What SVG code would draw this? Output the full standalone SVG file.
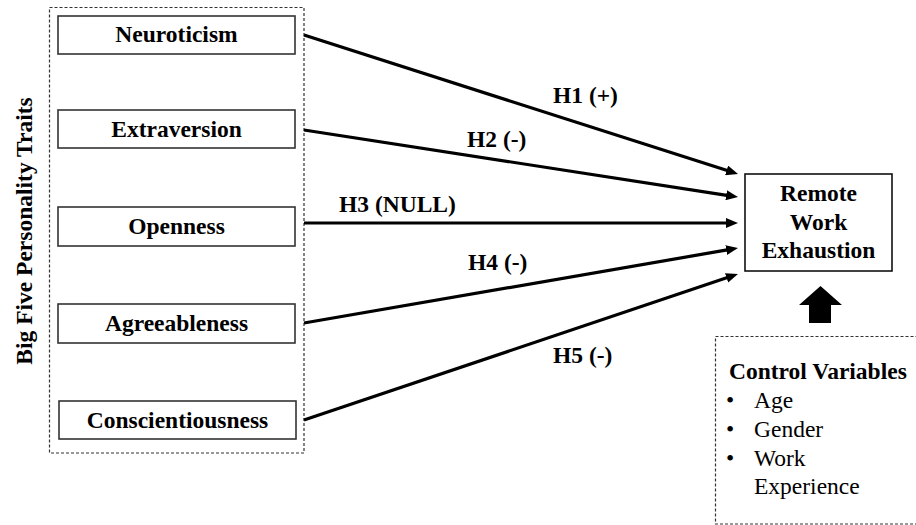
<svg xmlns="http://www.w3.org/2000/svg" width="916" height="525" viewBox="0 0 916 525">
<style>
.bg{fill:#fff}
.dash{fill:none;stroke:#333;stroke-width:1.2;stroke-dasharray:3,2}
.box{fill:#fff;stroke:#333;stroke-width:1.6}
.lbl{font-family:"Liberation Serif","Times New Roman",serif;font-weight:bold;font-size:23.5px;fill:#000;text-anchor:middle}
.hl{font-family:"Liberation Serif","Times New Roman",serif;font-weight:bold;font-size:23.5px;fill:#000}
.reg{font-family:"Liberation Serif","Times New Roman",serif;font-size:23.5px;fill:#000}
.arr{stroke:#000;stroke-width:3.2;fill:none;marker-end:url(#ah)}
</style>
<defs>
<marker id="ah" viewBox="0 0 12 10" refX="4" refY="5" markerWidth="12" markerHeight="10" markerUnits="userSpaceOnUse" orient="auto">
<path d="M0,0 L12,5 L0,10 z" fill="#000"/>
</marker>
</defs>
<rect class="bg" x="0" y="0" width="916" height="525"/>
<g id="group-traits">
<rect class="dash" x="49.5" y="7.5" width="254.5" height="445.5"/>
<text class="lbl" transform="translate(32,231) rotate(-90)" x="0" y="0">Big Five Personality Traits</text>
</g>
<g id="neuroticism">
<rect class="box" x="58" y="16" width="237" height="38"/>
<text class="lbl" x="176.5" y="42">Neuroticism</text>
</g>
<g id="extraversion">
<rect class="box" x="58" y="110" width="237" height="38"/>
<text class="lbl" x="176.5" y="137">Extraversion</text>
</g>
<g id="openness">
<rect class="box" x="58" y="207" width="237" height="39"/>
<text class="lbl" x="176.5" y="234">Openness</text>
</g>
<g id="agreeableness">
<rect class="box" x="58" y="304" width="237" height="39"/>
<text class="lbl" x="176.5" y="331">Agreeableness</text>
</g>
<g id="conscientiousness">
<rect class="box" x="59" y="401" width="237" height="38"/>
<text class="lbl" x="177.5" y="428">Conscientiousness</text>
</g>
<g id="exhaustion">
<rect class="box" x="745" y="174" width="147" height="97" style="stroke:#111"/>
<text class="lbl" x="818.5" y="201">Remote</text>
<text class="lbl" x="818.5" y="230">Work</text>
<text class="lbl" x="818.5" y="258">Exhaustion</text>
</g>
<g id="controls">
<rect class="dash" x="715.5" y="336.5" width="210" height="187.5"/>
<text class="hl" x="729" y="379">Control Variables</text>
<text class="reg" x="726" y="408">•</text>
<text class="reg" x="754" y="408">Age</text>
<text class="reg" x="726" y="437">•</text>
<text class="reg" x="754" y="437">Gender</text>
<text class="reg" x="726" y="466">•</text>
<text class="reg" x="754" y="466">Work</text>
<text class="reg" x="754" y="494">Experience</text>
</g>
<g id="connectors">
<line class="arr" x1="304" y1="35" x2="730.4" y2="171.6"/>
<line class="arr" x1="304" y1="130" x2="730.1" y2="195.8"/>
<line class="arr" x1="304" y1="223" x2="730" y2="223"/>
<line class="arr" x1="304" y1="323" x2="730.1" y2="249.4"/>
<line class="arr" x1="304" y1="420" x2="730.4" y2="276.6"/>
<polygon points="809,323 809,305 799,305 820.5,286 842,305 831,305 831,323" fill="#000"/>
<text class="hl" x="553" y="103">H1 (+)</text>
<text class="hl" x="467" y="147">H2 (-)</text>
<text class="hl" x="339" y="212">H3 (NULL)</text>
<text class="hl" x="468" y="270">H4 (-)</text>
<text class="hl" x="553" y="363">H5 (-)</text>
</g>
</svg>
